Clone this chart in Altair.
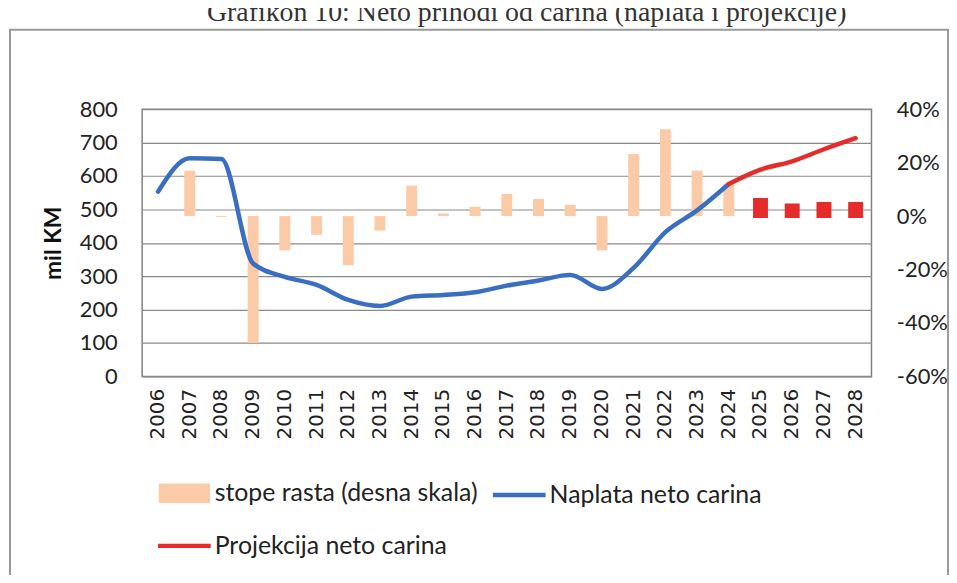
import altair as alt
import pandas as pd

# ---------------- data ----------------
all_years = [str(y) for y in range(2006, 2029)]

naplata_years = [str(y) for y in range(2006, 2025)]
naplata = [553, 653, 651, 338, 298, 274, 229, 211, 239, 244, 252, 272, 287, 304, 262, 325, 432, 497, 576]

projekcija_years = ["2024", "2025", "2026", "2027", "2028"]
projekcija = [576, 619, 644, 680, 713]

rate_years = [str(y) for y in range(2007, 2025)]
rates = [0.17, -0.003, -0.475, -0.128, -0.07, -0.184, -0.054, 0.114, 0.01, 0.035,
         0.083, 0.064, 0.042, -0.128, 0.232, 0.325, 0.17, 0.12]

proj_rate_years = ["2025", "2026", "2027", "2028"]
proj_rates = [0.06, 0.04, 0.045, 0.045]

S_RATE = "stope rasta (desna skala)"
S_NAP = "Naplata neto carina"
S_PROJ = "Projekcija neto carina"
series_names = [S_RATE, S_NAP, S_PROJ]

TITLE = "Neto prihodi od carina"
CAPTION = "Grafikon 10: Neto prihodi od carina (naplata i projekcije)"

PEACH = "#FBCAA6"
BLUE = "#3A6EC1"
RED = "#E62B2B"

df_rates = pd.DataFrame({"year": rate_years, "rate": rates, "series": S_RATE})
df_proj_rates = pd.DataFrame({"year": proj_rate_years, "rate": proj_rates})
df_nap = pd.DataFrame({"year": naplata_years, "value": naplata, "series": S_NAP})
df_proj = pd.DataFrame({"year": projekcija_years, "value": projekcija, "series": S_PROJ})
df_caption = pd.DataFrame({"t": [CAPTION]})
df_frame = pd.DataFrame({"f": [1]})

# ---------------- shared encodings ----------------
x_axis = alt.Axis(labelAngle=270, labelFont="DejaVu Sans", labelFontSize=20,
                  labelPadding=12, title=None, grid=False, ticks=False, domain=False)
x_enc = alt.X("year:O", scale=alt.Scale(domain=all_years, paddingInner=0, paddingOuter=0),
              axis=x_axis)

shape_sig = ("datum.value === '%s' ? 'M-0.94,-0.3L0.94,-0.3L0.94,0.3L-0.94,0.3Z' : 'M-1.06,0L1.06,0'" % S_RATE)
fill_sig = "datum.value === '%s' ? '%s' : 'transparent'" % (S_RATE, PEACH)
stroke_sig = ("datum.value === '%s' ? '%s' : (datum.value === '%s' ? '%s' : 'transparent')"
              % (S_NAP, BLUE, S_PROJ, RED))

legend = alt.Legend(
    title=None, orient="none", legendX=15, legendY=359, direction="horizontal",
    columns=2, columnPadding=6, rowPadding=9, symbolSize=2500, padding=0,
    labelFont="Lato", labelFontSize=25, labelColor="#222222", labelLimit=500, labelOffset=3,
    symbolType={"expr": shape_sig},
    symbolFillColor={"expr": fill_sig},
    symbolStrokeColor={"expr": stroke_sig},
    symbolStrokeWidth=4.5, symbolOpacity=1,
)
color_enc = alt.Color("series:N", scale=alt.Scale(domain=series_names, range=[PEACH, BLUE, RED]),
                      legend=legend)

# ---------------- right axis: growth rates ----------------
y_rate = alt.Y("rate:Q", scale=alt.Scale(domain=[-0.6, 0.4], nice=False, zero=False),
               axis=alt.Axis(orient="right", values=[-0.6, -0.4, -0.2, 0, 0.2, 0.4], format=".0%",
                             labelExpr="replace(datum.label, '\u2212', '-')",
                             grid=False, ticks=False, tickSize=0, domain=False, title=None,
                             labelPadding=25, labelFont="Lato", labelFontSize=22))

bars = alt.Chart(df_rates).mark_bar(size=11).encode(
    x=x_enc, y=y_rate, y2=alt.datum(0), color=color_enc)

proj_bars = alt.Chart(df_proj_rates).mark_bar(size=11, color=RED, stroke=RED, strokeWidth=4).encode(
    x=x_enc, y=y_rate, y2=alt.datum(0))

bar_layer = alt.layer(bars, proj_bars)

# ---------------- left axis: amounts ----------------
y_val = alt.Y("value:Q", scale=alt.Scale(domain=[0, 800], nice=False),
              axis=alt.Axis(orient="left", values=list(range(0, 801, 100)), title="mil KM",
                            titleFont="Lato", titleFontSize=23, titleFontWeight="bold",
                            titleColor="#111111", titlePadding=14,
                            grid=True, gridColor="#8a8a8a", gridWidth=1.2,
                            ticks=False, tickSize=0, domain=False, labelPadding=25,
                            labelFont="Lato", labelFontSize=22))

line_nap = alt.Chart(df_nap).mark_line(strokeWidth=4.5, interpolate="monotone", strokeCap="round").encode(
    x=x_enc, y=y_val, color=color_enc)
line_proj = alt.Chart(df_proj).mark_line(strokeWidth=4.5, interpolate="monotone", strokeCap="round").encode(
    x=x_enc, y=y_val, color=color_enc)

line_layer = alt.layer(line_nap, line_proj)

# ---------------- decorations ----------------
frame = alt.Chart(df_frame).mark_rect(fill="transparent", stroke="#9a9a9a", strokeWidth=2).encode(
    x=alt.value(-133), x2=alt.value(811), y=alt.value(-80), y2=alt.value(520))

caption = alt.Chart(df_caption).mark_text(font="Liberation Serif", fontSize=28, align="center",
                                          baseline="alphabetic", color="#333333").encode(
    x=alt.value(387), y=alt.value(-89), text="t:N")

chart = alt.layer(frame, caption, bar_layer, line_layer).resolve_scale(
    y="independent"
).properties(
    width=734, height=269,
    padding={"left": 135, "top": 100, "right": 78, "bottom": 198},
    autosize=alt.AutoSizeParams(type="none"),
    background="white",
    title=alt.TitleParams(TITLE, font="Lato", fontSize=32, fontWeight="normal", color="#222222",
                          anchor="middle", dx=-21, offset=30, baseline="alphabetic"),
).configure_view(stroke="#7f7f7f", strokeWidth=1.5).configure_axis(labelColor="#222222")

chart.save("out.html", embed_options={"renderer": "svg", "actions": False})
